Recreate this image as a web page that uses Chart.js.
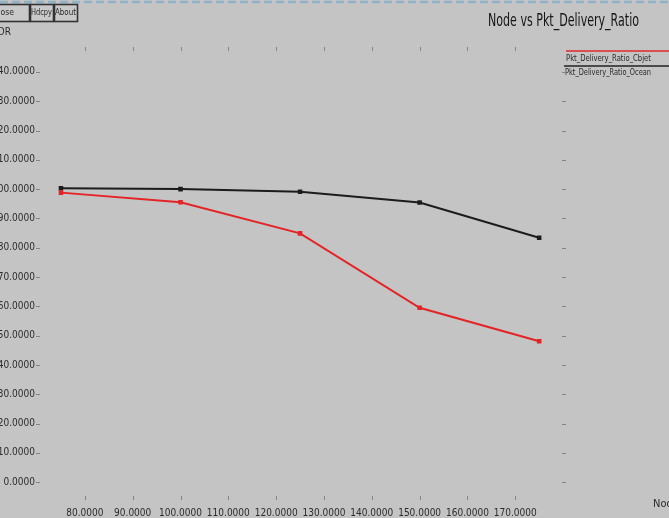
<!DOCTYPE html>
<html>
<head>
<meta charset="utf-8">
<title>Node vs Pkt_Delivery_Ratio</title>
<script src="https://cdn.jsdelivr.net/npm/chart.js@4/dist/chart.umd.min.js"></script>
<style>
html, body { margin: 0; padding: 0; background: #c4c4c4; }
#wrap { position: relative; width: 669px; height: 518px; overflow: hidden; }
canvas { display: block; }
</style>
</head>
<body>
<div id="wrap"><canvas id="graph" width="669" height="518"></canvas></div>
<script>
// number of nodes in each run
var nodes = [75, 100, 125, 150, 175];
// packet delivery ratio (%) for the two trace files
var pdrCbjet = [98.8, 95.5, 84.9, 59.5, 48.1];
var pdrOcean = [100.3, 100.0, 99.1, 95.4, 83.4];
var seriesNames = ["Pkt_Delivery_Ratio_Cbjet", "Pkt_Delivery_Ratio_Ocean"];

var xTickValues = [80, 90, 100, 110, 120, 130, 140, 150, 160, 170];
var yTickValues = [0, 10, 20, 30, 40, 50, 60, 70, 80, 90, 100, 110, 120, 130, 140];

var narrowFont = "'Liberation Sans Narrow', 'DejaVu Sans Condensed', 'Liberation Sans', sans-serif";

function toPoints(xs, ys) {
	var pts = [];
	for (var i = 0; i < xs.length; i++) {
		pts.push({ x: xs[i], y: ys[i] });
	}
	return pts;
}

// xgraph style decorations: button bar, title, legend, tick marks on all four sides
var xgraphFrame = {
	id: 'xgraphFrame',
	afterDraw: function(chart) {
		var ctx = chart.ctx;
		var area = chart.chartArea;
		var xs = chart.scales.x;
		var ys = chart.scales.y;
		ctx.save();

		// dashed window edge along the top
		ctx.strokeStyle = '#8fb2c6';
		ctx.lineWidth = 2.5;
		ctx.setLineDash([8, 4]);
		ctx.beginPath();
		ctx.moveTo(0, 2);
		ctx.lineTo(669, 2);
		ctx.stroke();
		ctx.setLineDash([]);

		// buttons (the first one runs off the left edge)
		var buttons = [["Close", -22, 51], ["Hdcpy", 30, 23], ["About", 54, 23]];
		ctx.font = "9px " + narrowFont;
		ctx.textAlign = 'center';
		ctx.textBaseline = 'middle';
		buttons.forEach(function(b) {
			ctx.fillStyle = '#c9c9c9';
			ctx.fillRect(b[1], 4, b[2], 17);
			ctx.strokeStyle = '#333';
			ctx.lineWidth = 1.6;
			ctx.strokeRect(b[1] + 0.5, 4.5, b[2], 17);
			ctx.fillStyle = '#2a2a2a';
			ctx.fillText(b[0], b[1] + b[2] / 2, 12.5, 21);
		});

		// y axis name
		ctx.textAlign = 'right';
		ctx.font = "10px " + narrowFont;
		ctx.fillText("PDR", 11, 32);

		// x axis name
		ctx.textAlign = 'left';
		ctx.font = "11px " + narrowFont;
		ctx.fillText("Nodes", 653, 504);

		// title
		ctx.fillStyle = '#151515';
		ctx.font = "17px " + narrowFont;
		ctx.fillText("Node vs Pkt_Delivery_Ratio", 488, 22, 151);

		// legend
		ctx.lineWidth = 1.6;
		ctx.strokeStyle = '#e0282c';
		ctx.beginPath();
		ctx.moveTo(566, 51);
		ctx.lineTo(669, 51);
		ctx.stroke();
		ctx.strokeStyle = '#4a4a4a';
		ctx.lineWidth = 2;
		ctx.beginPath();
		ctx.moveTo(564, 66);
		ctx.lineTo(669, 66);
		ctx.stroke();
		ctx.fillStyle = '#2a2a2a';
		ctx.font = "9px " + narrowFont;
		ctx.fillText(seriesNames[0], 566, 59, 85);
		ctx.fillText(seriesNames[1], 565, 73, 86);

		// tick marks
		ctx.strokeStyle = '#858585';
		ctx.lineWidth = 1;
		ctx.beginPath();
		xTickValues.forEach(function(v) {
			var px = Math.round(xs.getPixelForValue(v)) + 0.5;
			ctx.moveTo(px, area.top);
			ctx.lineTo(px, area.top + 4);
			ctx.moveTo(px, area.bottom - 4);
			ctx.lineTo(px, area.bottom);
		});
		yTickValues.forEach(function(v) {
			var py = Math.round(ys.getPixelForValue(v)) + 0.5;
			ctx.moveTo(area.left - 2, py);
			ctx.lineTo(area.left + 2, py);
			ctx.moveTo(area.right - 3, py);
			ctx.lineTo(area.right + 1, py);
		});
		ctx.stroke();

		ctx.restore();
	}
};

var chart = new Chart(document.getElementById('graph'), {
	type: 'line',
	data: {
		datasets: [
			{
				label: seriesNames[0],
				data: toPoints(nodes, pdrCbjet),
				borderColor: '#e42326',
				backgroundColor: '#e42326',
				borderWidth: 2,
				pointRadius: 1.8,
				pointStyle: 'rect',
				tension: 0
			},
			{
				label: seriesNames[1],
				data: toPoints(nodes, pdrOcean),
				borderColor: '#1c1c1c',
				backgroundColor: '#1c1c1c',
				borderWidth: 2,
				pointRadius: 1.8,
				pointStyle: 'rect',
				tension: 0
			}
		]
	},
	options: {
		responsive: false,
		animation: false,
		layout: { padding: { top: 47, right: 104, left: 0, bottom: 0 } },
		plugins: {
			legend: { display: false },
			tooltip: { enabled: false }
		},
		scales: {
			x: {
				type: 'linear',
				min: 70.2,
				max: 180.4,
				afterBuildTicks: function(scale) {
					scale.ticks = xTickValues.map(function(v) { return { value: v }; });
				},
				afterFit: function(scale) { scale.height = 18; },
				grid: { display: false, drawTicks: false },
				border: { display: false },
				ticks: {
					autoSkip: false,
					maxRotation: 0,
					padding: 7,
					color: '#2c2c2c',
					font: { family: narrowFont, size: 10 },
					callback: function(v) { return v.toFixed(4); }
				}
			},
			y: {
				type: 'linear',
				min: -6.1,
				max: 148.5,
				afterBuildTicks: function(scale) {
					scale.ticks = yTickValues.map(function(v) { return { value: v }; });
				},
				afterFit: function(scale) { scale.width = 38; },
				grid: { display: false, drawTicks: false },
				border: { display: false },
				ticks: {
					autoSkip: false,
					padding: 3,
					color: '#2c2c2c',
					font: { family: narrowFont, size: 10 },
					callback: function(v) { return v.toFixed(4); }
				}
			}
		}
	},
	plugins: [xgraphFrame]
});
</script>
</body>
</html>
